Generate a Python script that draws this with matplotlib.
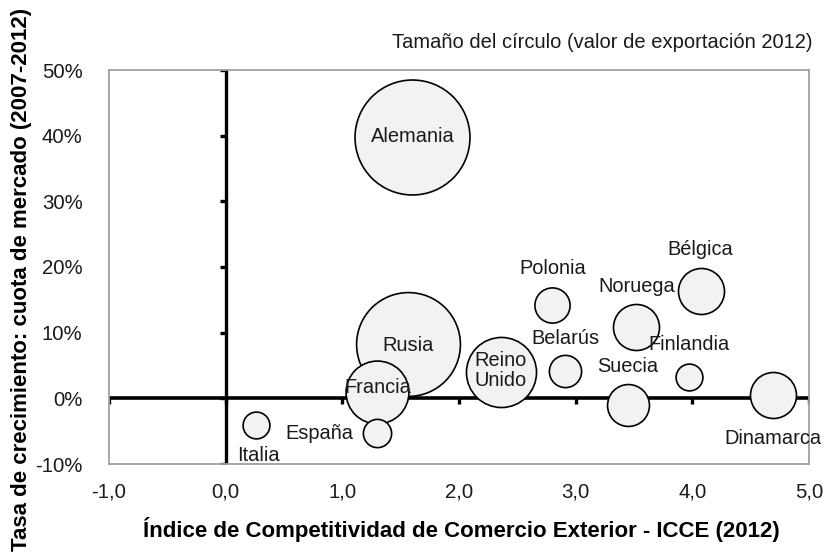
import matplotlib
matplotlib.use("Agg")
import matplotlib.pyplot as plt
from matplotlib.ticker import FuncFormatter

plt.rcParams['font.family'] = ['Liberation Sans', 'DejaVu Sans']

paises = ["Rusia", "Alemania", "Francia", "Reino Unido", "Polonia", "Belarús",
          "Noruega", "Bélgica", "Finlandia", "Suecia", "Dinamarca", "España", "Italia"]
icce = [1.56, 1.60, 1.30, 2.36, 2.80, 2.91, 3.52, 4.07, 3.97, 3.45, 4.69, 1.30, 0.26]
crecimiento = [8.3, 39.8, 1.0, 4.0, 14.2, 4.1, 10.9, 16.3, 3.3, -1.0, 0.5, -5.3, -4.1]
valor_exportacion = [270, 331, 99, 123, 31, 26, 53, 53, 18, 44, 53, 20, 18]

etiquetas = {"Reino Unido": "Reino\nUnido"}
# label offsets in points relative to bubble centre
offsets = {"Rusia": (0, -1), "Alemania": (0, 0), "Francia": (0, 3), "Reino Unido": (0, 1),
           "Polonia": (0, 26), "Belarús": (0, 24), "Noruega": (0, 29), "Bélgica": (0, 30),
           "Finlandia": (0, 23), "Suecia": (0, 28), "Dinamarca": (0, -31),
           "España": (-42, 0), "Italia": (2, -22)}

xticks = [-1, 0, 1, 2, 3, 4, 5]
yticks = [-10, 0, 10, 20, 30, 40, 50]

fig = plt.figure(figsize=(8.24, 5.59), dpi=100)
ax = fig.add_axes([109/824, 1-464/559, 700/824, 394/559])

ax.set_xlim(-1, 5)
ax.set_ylim(-10, 50)
ax.set_xticks(xticks)
ax.set_yticks(yticks)
ax.xaxis.set_major_formatter(FuncFormatter(lambda v, p: f"{v:.1f}".replace(".", ",")))
ax.yaxis.set_major_formatter(FuncFormatter(lambda v, p: f"{v:.0f}%"))
ax.tick_params(axis='both', length=0, labelsize=14.7, colors='#1a1a1a')
ax.tick_params(axis='x', pad=13)
ax.tick_params(axis='y', pad=19)
for s in ax.spines.values():
    s.set_color('#a0a0a0')
    s.set_linewidth(1.3)

# central axes lines
ax.axhline(0, color='black', lw=2.6, zorder=1)
ax.axvline(0, color='black', lw=2.4, zorder=1)
ax.plot([0]*len(yticks), yticks, ls='none', marker=0, ms=4, mew=2.4, color='black', zorder=1)
ax.plot(xticks, [0]*len(xticks), ls='none', marker=3, ms=4, mew=2.4, color='black', zorder=1)

sizes = [v * 20.7 for v in valor_exportacion]
for i, p in enumerate(paises):
    ax.scatter(icce[i], crecimiento[i], s=sizes[i], facecolor='#f1f2f2',
               edgecolor='black', linewidth=1.2, zorder=2 + i * 0.01)
for i, p in enumerate(paises):
    dx, dy = offsets[p]
    ax.annotate(etiquetas.get(p, p), (icce[i], crecimiento[i]), xytext=(dx, dy),
                textcoords='offset points', ha='center', va='center',
                fontsize=14.4, color='#1a1a1a', zorder=5, linespacing=1.1)

ax.set_xlabel("Índice de Competitividad de Comercio Exterior - ICCE (2012)",
              fontsize=16, fontweight='bold', color='black', va='center')
ax.xaxis.set_label_coords((461-109)/700, (464-530)/394)
fig.text(22/824, 1-279/559, "Tasa de crecimiento: cuota de mercado (2007-2012)",
         rotation=90, ha='center', va='center', fontsize=16, fontweight='bold')
fig.text(812/824, 1-42/559, "Tamaño del círculo (valor de exportación 2012)",
         ha='right', va='center', fontsize=14.5, color='#1a1a1a')

fig.savefig("out.png", dpi=100)
